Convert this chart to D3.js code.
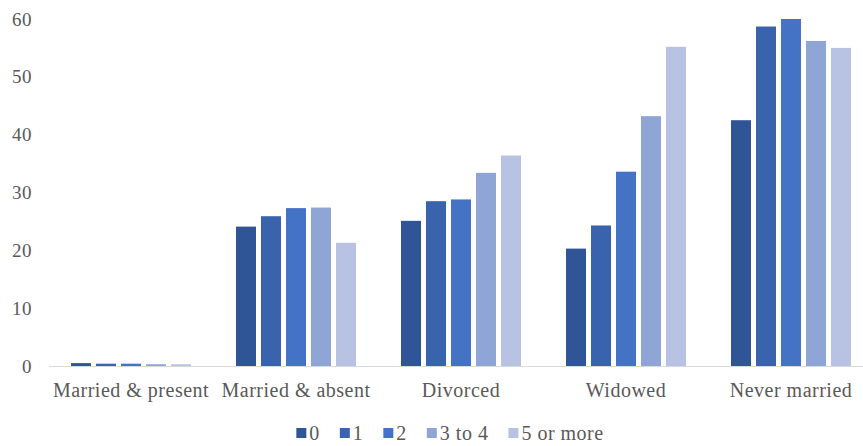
<!DOCTYPE html>
<html>
<head>
<meta charset="utf-8">
<script src="https://cdn.jsdelivr.net/npm/d3@7"></script>
<style>
	body { margin: 0; background: #fff; }
	svg text { font-family: Garamond, "Liberation Serif", serif; fill: #595959; }
</style>
</head>
<body>
<div id="chart"></div>
<script>
// data
var categories = ["Married & present", "Married & absent", "Divorced", "Widowed", "Never married"];
var seriesNames = ["0", "1", "2", "3 to 4", "5 or more"];
var values0 = [0.5, 24.1, 25.1, 20.3, 42.5];
var values1 = [0.4, 25.9, 28.5, 24.3, 58.7];
var values2 = [0.4, 27.3, 28.8, 33.6, 60.0];
var values3 = [0.3, 27.4, 33.4, 43.2, 56.2];
var values4 = [0.3, 21.3, 36.4, 55.2, 55.0];
var yTicks = [0, 10, 20, 30, 40, 50, 60];
var colors = ["#2F5597", "#3A63AD", "#4472C4", "#8FA5D6", "#B8C3E3"];

var seriesValues = [values0, values1, values2, values3, values4];

var width = 863, height = 446;
var svg = d3.select("#chart")
	.append("svg")
		.attr("width", width)
		.attr("height", height);

var x0 = d3.scaleBand()
	.domain(categories)
	.range([48.5, 873.5])
	.paddingInner(0);

var x1 = d3.scaleBand()
	.domain(seriesNames)
	.range([22.5, 142.5])
	.paddingInner(0.2);

var y = d3.scaleLinear()
	.domain([0, 60])
	.range([366, 19]);

var color = d3.scaleOrdinal().domain(seriesNames).range(colors);

// y axis labels, no line
var yAxis = svg.append("g")
	.attr("transform", "translate(32,0)")
	.call(d3.axisLeft(y).tickValues(yTicks).tickSize(0).tickPadding(0));
yAxis.select(".domain").remove();
yAxis.selectAll("text")
	.attr("font-size", 19)
	.attr("letter-spacing", 0.5)
	.style("font-family", "Garamond, 'Liberation Serif', serif")
	.attr("fill", "#595959");

// bars
var groups = svg.append("g").selectAll("g")
	.data(categories)
	.enter().append("g")
		.attr("transform", function(d) { return "translate(" + x0(d) + ",0)"; });

groups.selectAll("rect")
	.data(function(d, i) {
		return seriesNames.map(function(s, j) { return { key: s, value: seriesValues[j][i] }; });
	})
	.enter().append("rect")
		.attr("x", function(d) { return x1(d.key); })
		.attr("y", function(d) { return y(d.value); })
		.attr("width", x1.bandwidth())
		.attr("height", function(d) { return y(0) - y(d.value); })
		.attr("fill", function(d) { return color(d.key); });

// x axis
var xAxis = svg.append("g")
	.attr("transform", "translate(0," + y(0) + ")")
	.call(d3.axisBottom(x0).tickSize(0).tickPadding(17));
xAxis.select(".domain")
	.attr("stroke", "#D9D9D9")
	.attr("stroke-width", 1.2);
xAxis.selectAll("text")
	.attr("font-size", 20)
	.attr("letter-spacing", 0.5)
	.style("font-family", "Garamond, 'Liberation Serif', serif")
	.attr("fill", "#595959");

// legend
var legend = svg.append("g").attr("transform", "translate(0,433)");
var items = legend.selectAll("g")
	.data(seriesNames)
	.enter().append("g");
items.append("rect")
	.attr("width", 10)
	.attr("height", 10)
	.attr("y", -5)
	.attr("fill", function(d) { return color(d); });
items.append("text")
	.attr("x", 13)
	.attr("dy", "0.35em")
	.attr("font-size", 20)
	.attr("letter-spacing", 0.5)
	.text(function(d) { return d; });

var offsets = [], pos = 0;
items.each(function() {
	offsets.push(pos);
	pos += this.getBBox().width + 20;
});
var legendWidth = pos - 20;
var startX = 450 - legendWidth / 2;
items.attr("transform", function(d, i) { return "translate(" + (startX + offsets[i]) + ",0)"; });
</script>
</body>
</html>
